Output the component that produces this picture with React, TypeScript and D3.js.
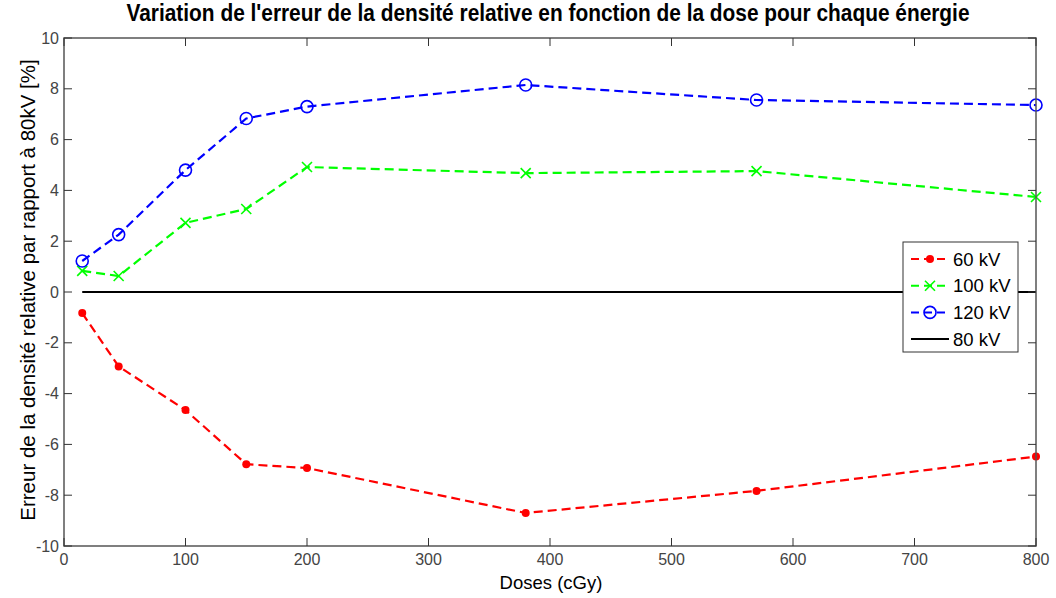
import React from "react";
import * as d3 from "d3";

// Dose (cGy) at which each measurement was taken
const doses = [15, 45, 100, 150, 200, 380, 570, 800];

// Relative density error vs the 80 kV reference, in %
const err60kV = [-0.83, -2.93, -4.65, -6.78, -6.93, -8.7, -7.83, -6.48];
const err100kV = [0.83, 0.63, 2.72, 3.27, 4.92, 4.68, 4.76, 3.74];
const err120kV = [1.22, 2.26, 4.8, 6.83, 7.3, 8.15, 7.56, 7.36];
const err80kV = [0, 0];
const ref80kVDoses = [15, 800];

const xTicks = [0, 100, 200, 300, 400, 500, 600, 700, 800];
const yTicks = [-10, -8, -6, -4, -2, 0, 2, 4, 6, 8, 10];

const title = "Variation de l'erreur de la densité relative en fonction de la dose pour chaque énergie";
const xLabel = "Doses (cGy)";
const yLabel = "Erreur de la densité relative par rapport à 80kV [%]";

const W = 1056;
const H = 598;
const plot = { left: 64, right: 1036, top: 38, bottom: 546 };

export default function App() {
  const x = d3.scaleLinear().domain([0, 800]).range([plot.left, plot.right]);
  const y = d3.scaleLinear().domain([-10, 10]).range([plot.bottom, plot.top]);

  const line = d3
    .line<[number, number]>()
    .x((d) => x(d[0]))
    .y((d) => y(d[1]));

  const pts = (vals: number[], xs: number[] = doses) =>
    xs.map((d, i) => [d, vals[i]] as [number, number]);

  const font = "'Liberation Sans', Arial, sans-serif";
  const tickLen = 8;

  const dash = "9,5";

  const legend = { x: 903, y: 242, w: 115, h: 110 };
  const legendRows = [
    { label: "60 kV", color: "#ff0000", kind: "dot", dashed: true },
    { label: "100 kV", color: "#00ff00", kind: "x", dashed: true },
    { label: "120 kV", color: "#0000ff", kind: "circle", dashed: true },
    { label: "80 kV", color: "#000000", kind: "none", dashed: false },
  ];

  const marker = (kind: string, color: string, cx: number, cy: number, key: any) => {
    if (kind === "dot") return <circle key={key} cx={cx} cy={cy} r={4} fill={color} />;
    if (kind === "circle")
      return <circle key={key} cx={cx} cy={cy} r={6} fill="none" stroke={color} strokeWidth={1.6} />;
    if (kind === "x")
      return (
        <path
          key={key}
          d={`M${cx - 5},${cy - 5}L${cx + 5},${cy + 5}M${cx - 5},${cy + 5}L${cx + 5},${cy - 5}`}
          stroke={color}
          strokeWidth={1.6}
        />
      );
    return null;
  };

  const series = [
    { vals: err60kV, color: "#ff0000", kind: "dot" },
    { vals: err100kV, color: "#00ff00", kind: "x" },
    { vals: err120kV, color: "#0000ff", kind: "circle" },
  ];

  return (
    <svg
      width={W}
      height={H}
      viewBox={`0 0 ${W} ${H}`}
      style={{ position: "absolute", left: 0, top: 0, background: "#fff" }}
    >
      <rect x={0} y={0} width={W} height={H} fill="#fff" />

      {/* reference line and series */}
      <path d={line(pts(err80kV, ref80kVDoses)) || ""} fill="none" stroke="#000" strokeWidth={2} />
      {series.map((s, si) => (
        <g key={si}>
          <path
            d={line(pts(s.vals)) || ""}
            fill="none"
            stroke={s.color}
            strokeWidth={2.2}
            strokeDasharray={dash}
          />
          {pts(s.vals).map((p, i) => marker(s.kind, s.color, x(p[0]), y(p[1]), i))}
        </g>
      ))}

      {/* axes box with inward ticks on all sides */}
      <rect
        x={plot.left}
        y={plot.top}
        width={plot.right - plot.left}
        height={plot.bottom - plot.top}
        fill="none"
        stroke="#555"
        strokeWidth={1.5}
      />
      {xTicks.map((t) => (
        <g key={"xt" + t}>
          <line x1={x(t)} x2={x(t)} y1={plot.bottom} y2={plot.bottom - tickLen} stroke="#333" />
          <line x1={x(t)} x2={x(t)} y1={plot.top} y2={plot.top + tickLen} stroke="#333" />
          <text
            x={x(t)}
            y={plot.bottom + 19}
            textAnchor="middle"
            fontFamily={font}
            fontSize={16}
            fill="#444"
          >
            {t}
          </text>
        </g>
      ))}
      {yTicks.map((t) => (
        <g key={"yt" + t}>
          <line x1={plot.left} x2={plot.left + tickLen} y1={y(t)} y2={y(t)} stroke="#333" />
          <line x1={plot.right} x2={plot.right - tickLen} y1={y(t)} y2={y(t)} stroke="#333" />
          <text
            x={plot.left - 5}
            y={y(t)}
            dy="0.35em"
            textAnchor="end"
            fontFamily={font}
            fontSize={16}
            fill="#444"
          >
            {t}
          </text>
        </g>
      ))}

      {/* legend */}
      <rect
        x={legend.x}
        y={legend.y}
        width={legend.w}
        height={legend.h}
        fill="#fff"
        stroke="#333"
        strokeWidth={1}
      />
      {legendRows.map((r, i) => {
        const cy = legend.y + 17 + i * 26.7;
        return (
          <g key={"lg" + i}>
            <line
              x1={legend.x + 8}
              x2={legend.x + 46}
              y1={cy}
              y2={cy}
              stroke={r.color}
              strokeWidth={2}
              strokeDasharray={r.dashed ? "8,5" : undefined}
            />
            {marker(r.kind, r.color, legend.x + 27, cy, "m")}
            <text
              x={legend.x + 50}
              y={cy}
              dy="0.36em"
              fontFamily={font}
              fontSize={18.5}
              fill="#000"
            >
              {r.label}
            </text>
          </g>
        );
      })}

      {/* labels */}
      <text
        x={548}
        y={21}
        textAnchor="middle"
        fontFamily={font}
        fontWeight="bold"
        fontSize={23}
        textLength={843}
        lengthAdjust="spacingAndGlyphs"
        fill="#000"
      >
        {title}
      </text>
      <text
        x={551}
        y={589}
        textAnchor="middle"
        fontFamily={font}
        fontSize={18.5}
        fill="#000"
      >
        {xLabel}
      </text>
      <text
        transform={`translate(35, 290) rotate(-90)`}
        textAnchor="middle"
        fontFamily={font}
        fontSize={20.5}
        fill="#000"
      >
        {yLabel}
      </text>
    </svg>
  );
}
